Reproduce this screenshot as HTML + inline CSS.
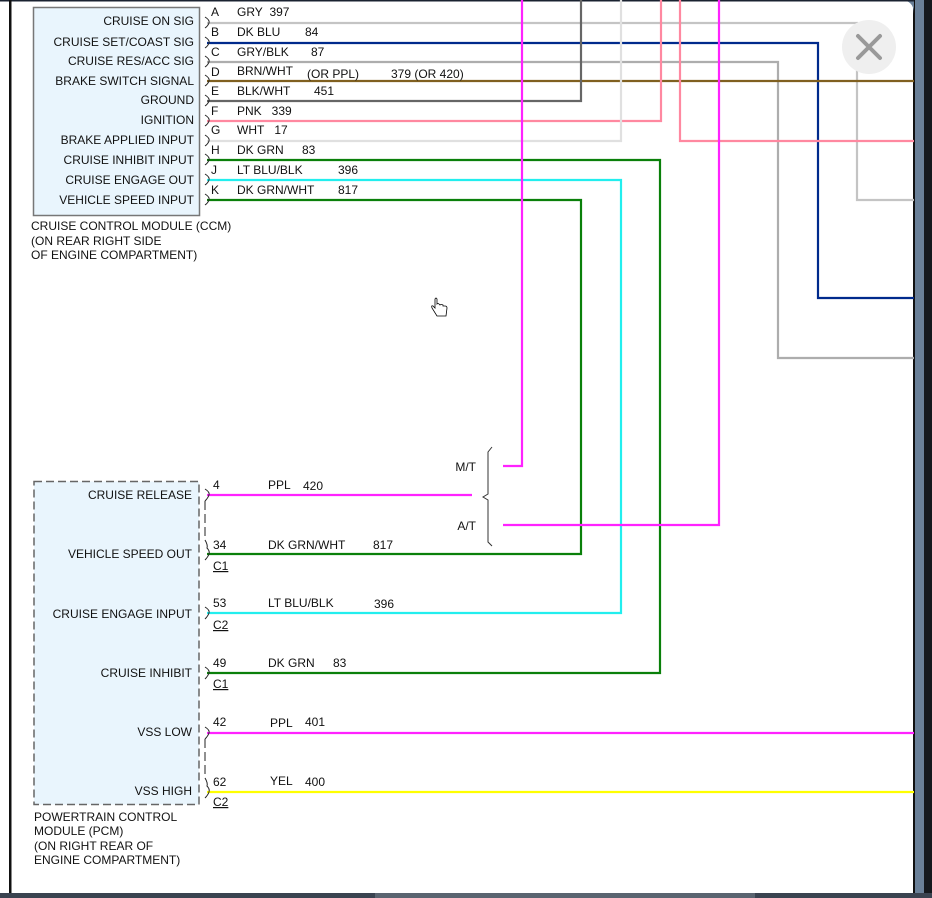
<!DOCTYPE html>
<html><head><meta charset="utf-8"><style>
html,body{margin:0;padding:0;width:932px;height:898px;overflow:hidden;background:#fff}
svg{display:block}
text{font-family:"Liberation Sans",Arial,sans-serif;font-size:12px;fill:#111}
.r{text-anchor:end}
</style></head><body>
<svg width="932" height="898" viewBox="0 0 932 898" xmlns="http://www.w3.org/2000/svg">
<rect x="0" y="0" width="932" height="898" fill="#fff"/>
<!-- frame -->
<rect x="915" y="0" width="9" height="898" fill="#6a8098"/>
<rect x="924" y="0" width="8" height="898" fill="#15191e"/>
<rect x="913" y="0" width="2" height="898" fill="#111"/>
<path d="M900 0 Q914 0 914 14 L914 0 Z" fill="#6a8098"/>
<rect x="0" y="0" width="914" height="1.5" fill="#1a2230"/>
<rect x="9" y="0" width="2.5" height="898" fill="#111"/>
<rect x="0" y="893" width="932" height="5" fill="#3a4350"/>
<rect x="375" y="893" width="380" height="5" fill="#5a6470"/>

<!-- CCM box -->
<rect x="33.5" y="7.5" width="166" height="208" fill="#e9f5fd" stroke="#777" stroke-width="1.5"/>
<g class="r">
<text x="194" y="25" class="r">CRUISE ON SIG</text>
<text x="194" y="46" class="r">CRUISE SET/COAST SIG</text>
<text x="194" y="65" class="r">CRUISE RES/ACC SIG</text>
<text x="194" y="85" class="r">BRAKE SWITCH SIGNAL</text>
<text x="194" y="104" class="r">GROUND</text>
<text x="194" y="124" class="r">IGNITION</text>
<text x="194" y="144" class="r">BRAKE APPLIED INPUT</text>
<text x="194" y="164" class="r">CRUISE INHIBIT INPUT</text>
<text x="194" y="184" class="r">CRUISE ENGAGE OUT</text>
<text x="194" y="204" class="r">VEHICLE SPEED INPUT</text>
</g>
<text x="31" y="230">CRUISE CONTROL MODULE (CCM)</text>
<text x="31" y="245">(ON REAR RIGHT SIDE</text>
<text x="31" y="259">OF ENGINE COMPARTMENT)</text>

<!-- wires -->
<g fill="none" stroke-width="2.2">
<polyline points="207,23 857,23 857,200 914,200" stroke="#c4c4c4"/>
<polyline points="207,43 818,43 818,298 914,298" stroke="#002a8c"/>
<polyline points="207,62 778,62 778,358 914,358" stroke="#adadad"/>
<polyline points="207,81 914,81" stroke="#806020"/>
<polyline points="207,101 581,101 581,0" stroke="#666"/>
<polyline points="207,121 661,121 661,0" stroke="#ff88a0"/>
<polyline points="207,141 621,141 621,0" stroke="#e0e0e0"/>
<polyline points="207,160 660,160 660,673 207,673" stroke="#0a800a"/>
<polyline points="207,180 621,180 621,613 207,613" stroke="#22eeee"/>
<polyline points="207,200 581,200 581,554 207,554" stroke="#0a800a"/>
<polyline points="522,0 522,466 503,466" stroke="#ff22ff"/>
<polyline points="680,0 680,141 914,141" stroke="#ff88a0"/>
<polyline points="719,0 719,525 503,525" stroke="#ff22ff"/>
<polyline points="207,495 472,495" stroke="#ff22ff"/>
<polyline points="207,733 914,733" stroke="#ff22ff"/>
<polyline points="207,792 914,792" stroke="#ffff00"/>
</g>

<!-- CCM brackets -->
<g fill="none" stroke="#222" stroke-width="1">
<path d="M205 17 Q210 20 209 23 Q208 26 205 28"/>
<path d="M205 37 Q210 40 209 43 Q208 46 205 48"/>
<path d="M205 56 Q210 59 209 62 Q208 65 205 67"/>
<path d="M205 75 Q210 78 209 81 Q208 84 205 86"/>
<path d="M205 95 Q210 98 209 101 Q208 104 205 106"/>
<path d="M205 115 Q210 118 209 121 Q208 124 205 126"/>
<path d="M205 135 Q210 138 209 141 Q208 144 205 146"/>
<path d="M205 154 Q210 157 209 160 Q208 163 205 165"/>
<path d="M205 174 Q210 177 209 180 Q208 183 205 185"/>
<path d="M205 194 Q210 197 209 200 Q208 203 205 205"/>
</g>
<!-- CCM pin labels -->
<text x="211" y="16">A</text><text x="237" y="16">GRY&#160;&#160;397</text>
<text x="211" y="36">B</text><text x="237" y="36">DK BLU</text><text x="305" y="36">84</text>
<text x="211" y="56">C</text><text x="237" y="56">GRY/BLK</text><text x="311" y="56">87</text>
<text x="211" y="76">D</text><text x="237" y="75">BRN/WHT</text><text x="307" y="78">(OR PPL)</text><text x="391" y="78">379 (OR 420)</text>
<text x="211" y="95">E</text><text x="237" y="95">BLK/WHT</text><text x="314" y="95">451</text>
<text x="211" y="115">F</text><text x="237" y="115">PNK&#160;&#160;&#160;339</text>
<text x="211" y="134">G</text><text x="237" y="134">WHT&#160;&#160;&#160;17</text>
<text x="211" y="154">H</text><text x="237" y="154">DK GRN</text><text x="302" y="154">83</text>
<text x="211" y="174">J</text><text x="237" y="174">LT BLU/BLK</text><text x="338" y="174">396</text>
<text x="211" y="194">K</text><text x="237" y="194">DK GRN/WHT</text><text x="338" y="194">817</text>

<!-- PCM box -->
<rect x="34" y="481.5" width="165" height="323" fill="#e9f5fd" stroke="#666" stroke-width="1.5" stroke-dasharray="8,4"/>
<text x="192" y="499" class="r">CRUISE RELEASE</text>
<text x="192" y="558" class="r">VEHICLE SPEED OUT</text>
<text x="192" y="618" class="r">CRUISE ENGAGE INPUT</text>
<text x="192" y="677" class="r">CRUISE INHIBIT</text>
<text x="192" y="736" class="r">VSS LOW</text>
<text x="192" y="795" class="r">VSS HIGH</text>
<text x="34" y="821">POWERTRAIN CONTROL</text>
<text x="34" y="835">MODULE (PCM)</text>
<text x="34" y="850">(ON RIGHT REAR OF</text>
<text x="34" y="864">ENGINE COMPARTMENT)</text>

<g fill="none" stroke="#222" stroke-width="1">
<path d="M205 489 Q210 492 209 495 Q208 498 205 501"/>
<path d="M205 501 L205 540" stroke-dasharray="9,4"/>
<path d="M205 540 Q208 545 207 548 Q210 551 209 554 Q208 557 205 560"/>
<path d="M205 607 Q210 610 209 613 Q208 616 205 619"/>
<path d="M205 667 Q210 670 209 673 Q208 676 205 679"/>
<path d="M205 727 Q210 730 209 733 Q208 736 205 739"/>
<path d="M205 739 L205 778" stroke-dasharray="9,4"/>
<path d="M205 778 Q208 783 207 786 Q210 789 209 792 Q208 795 205 798"/>
<path d="M492 447 L488 452 L488 494 L483 497 L488 500 L488 542 L492 546" stroke="#333"/>
</g>
<text x="213" y="489">4</text><text x="268" y="489">PPL</text><text x="303" y="490">420</text>
<text x="213" y="549">34</text><text x="268" y="549">DK GRN/WHT</text><text x="373" y="549">817</text>
<text x="213" y="570" text-decoration="underline">C1</text>
<text x="213" y="607">53</text><text x="268" y="607">LT BLU/BLK</text><text x="374" y="608">396</text>
<text x="213" y="629" text-decoration="underline">C2</text>
<text x="213" y="667">49</text><text x="268" y="667">DK GRN</text><text x="333" y="667">83</text>
<text x="213" y="688" text-decoration="underline">C1</text>
<text x="213" y="726">42</text><text x="270" y="727">PPL</text><text x="305" y="726">401</text>
<text x="213" y="786">62</text><text x="270" y="785">YEL</text><text x="305" y="786">400</text>
<text x="213" y="806" text-decoration="underline">C2</text>
<text x="476" y="471" class="r">M/T</text>
<text x="476" y="530" class="r">A/T</text>

<!-- cursor -->
<path d="M435 299 L435 308 L433 306 Q431 305 432 308 L437 316 L446 316 L447 308 Q447 306 445 306 L443 306 L443 305 Q441 304 440 305 L439 304 Q438 303 437 304 L437 299 Q436 297 435 299 Z" fill="#fff" stroke="#000" stroke-width="0.8"/>

<!-- close button -->
<circle cx="869" cy="47" r="27" fill="#efefef"/>
<path d="M858 36 L880 58 M880 36 L858 58" stroke="#999" stroke-width="4" stroke-linecap="round"/>
</svg>
</body></html>
